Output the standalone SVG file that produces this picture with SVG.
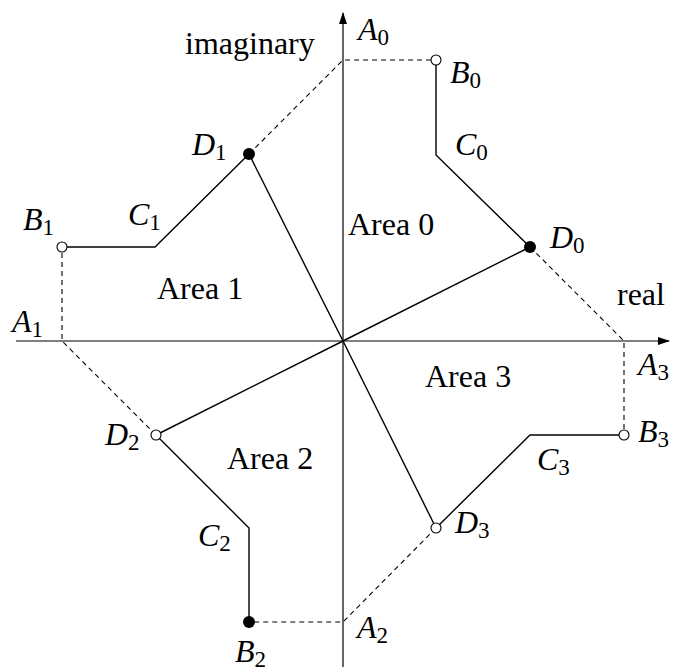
<svg xmlns="http://www.w3.org/2000/svg" width="673" height="671" viewBox="0 0 673 671">
<style>
text{font-family:"Liberation Serif","DejaVu Serif",serif;font-size:32px;fill:#000}
.it{font-style:italic}
.sub{font-style:normal;font-size:23px}
.solid{stroke:#000;stroke-width:1.4;fill:none}
.dash{stroke:#000;stroke-width:1.1;fill:none;stroke-dasharray:5 4}
.axis{stroke:#000;stroke-width:1.2;fill:none}
.open{fill:#fff;stroke:#000;stroke-width:1.1}
.fill{fill:#000}
</style>
<defs>
<marker id="arr" markerWidth="12" markerHeight="8" refX="11" refY="4" orient="auto" markerUnits="userSpaceOnUse">
<path d="M0,0 L12,4 L0,8 Z" fill="#000"/>
</marker>
</defs>
<rect width="673" height="671" fill="#fff"/>
<g id="axes">
<line class="axis" x1="16" y1="341" x2="669" y2="341" marker-end="url(#arr)"/>
<line class="axis" x1="343" y1="667" x2="343" y2="13" marker-end="url(#arr)"/>
<text x="185" y="54">imaginary</text>
<text x="617" y="305">real</text>
</g>
<g id="connectors">
<line class="solid" x1="343" y1="341" x2="249" y2="154"/>
<line class="solid" x1="343" y1="341" x2="530" y2="247"/>
<line class="solid" x1="343" y1="341" x2="436" y2="528"/>
<line class="solid" x1="343" y1="341" x2="156" y2="435"/>
<polyline class="solid" points="436,60 436,155 530,247"/>
<polyline class="solid" points="624,435 530,435 436,528"/>
<polyline class="solid" points="249,622 249,528 156,435"/>
<polyline class="solid" points="62,247 155,247 249,154"/>
<polyline class="dash" points="249,154 343,60 436,60"/>
<polyline class="dash" points="530,247 624,341 624,435"/>
<polyline class="dash" points="436,528 343,622 249,622"/>
<polyline class="dash" points="156,435 62,341 62,247"/>
</g>
<g id="A0"><text x="358" y="40" class="it">A<tspan class="sub" dy="5">0</tspan></text></g>
<g id="A1"><text x="12" y="332" class="it">A<tspan class="sub" dy="5">1</tspan></text></g>
<g id="A2"><text x="357" y="638" class="it">A<tspan class="sub" dy="5">2</tspan></text></g>
<g id="A3"><text x="638" y="375" class="it">A<tspan class="sub" dy="5">3</tspan></text></g>
<g id="B0"><circle class="open" cx="436" cy="60" r="5"/><text x="450" y="83" class="it">B<tspan class="sub" dy="5">0</tspan></text></g>
<g id="B1"><circle class="open" cx="62" cy="247" r="5"/><text x="23" y="230" class="it">B<tspan class="sub" dy="5">1</tspan></text></g>
<g id="B2"><circle class="fill" cx="249" cy="622" r="6"/><text x="235" y="662" class="it">B<tspan class="sub" dy="5">2</tspan></text></g>
<g id="B3"><circle class="open" cx="624" cy="435" r="5"/><text x="638" y="442" class="it">B<tspan class="sub" dy="5">3</tspan></text></g>
<g id="C0"><text x="455" y="155" class="it">C<tspan class="sub" dy="5">0</tspan></text></g>
<g id="C1"><text x="128" y="225" class="it">C<tspan class="sub" dy="5">1</tspan></text></g>
<g id="C2"><text x="198" y="546" class="it">C<tspan class="sub" dy="5">2</tspan></text></g>
<g id="C3"><text x="537" y="470" class="it">C<tspan class="sub" dy="5">3</tspan></text></g>
<g id="D0"><circle class="fill" cx="530" cy="247" r="6"/><text x="550" y="248" class="it">D<tspan class="sub" dy="5">0</tspan></text></g>
<g id="D1"><circle class="fill" cx="249" cy="154" r="6"/><text x="192" y="155" class="it">D<tspan class="sub" dy="5">1</tspan></text></g>
<g id="D2"><circle class="open" cx="156" cy="435" r="5"/><text x="105" y="445" class="it">D<tspan class="sub" dy="5">2</tspan></text></g>
<g id="D3"><circle class="open" cx="436" cy="528" r="5"/><text x="455" y="533" class="it">D<tspan class="sub" dy="5">3</tspan></text></g>
<g id="area0"><text x="348" y="235">Area 0</text></g>
<g id="area1"><text x="157" y="299">Area 1</text></g>
<g id="area2"><text x="227" y="469">Area 2</text></g>
<g id="area3"><text x="425" y="387">Area 3</text></g>
</svg>
